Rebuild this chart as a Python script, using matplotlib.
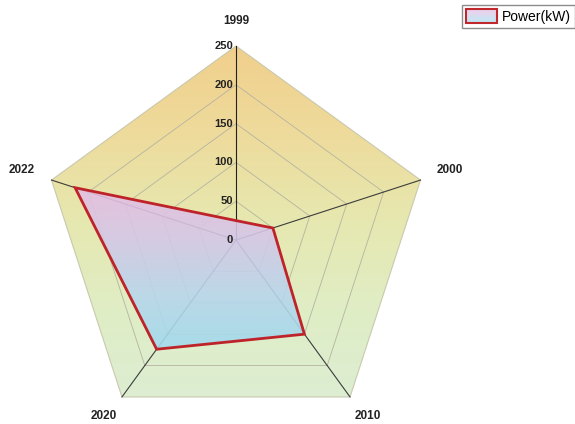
import numpy as np
import matplotlib
matplotlib.use("Agg")
import matplotlib.pyplot as plt
from matplotlib.colors import LinearSegmentedColormap
from matplotlib.patches import Polygon, Rectangle
from matplotlib.legend_handler import HandlerBase

# data
years = ["1999", "2000", "2010", "2020", "2022"]
power_kw = [25, 50, 150, 174, 218]
ticks = [0, 50, 100, 150, 200, 250]
r_max = 250
series_name = "Power(kW)"

plt.rcParams['font.family'] = ['Liberation Sans', 'DejaVu Sans']

W, H = 575, 424
px = r_max / 194      # data units per pixel
cx, cy = 236, 184     # centre of the radar in pixels (from bottom-left)

fig = plt.figure(figsize=(W / 100, H / 100), dpi=100)
ax = fig.add_axes([0, 0, 1, 1])
ax.axis('off')

n = len(years)
angles = np.pi / 2 - 2 * np.pi * np.arange(n) / n


def ring(r):
    r = np.broadcast_to(np.asarray(r, dtype=float), angles.shape)
    return np.column_stack([r * np.cos(angles), r * np.sin(angles)])


bg_cmap = LinearSegmentedColormap.from_list(
    "bg", ["#DCEED2", "#E0EDC5", "#E6E8B0", "#EEDB9C", "#F1CF8C"])
poly_cmap = LinearSegmentedColormap.from_list(
    "poly", ["#A2DAEC", "#B8D6EC", "#D3C8E8", "#E6BEE2"])
grad = np.linspace(0, 1, 256).reshape(-1, 1)

# background pentagon with vertical gradient
outer = ring(r_max)
frame = Polygon(outer, closed=True, facecolor='none', edgecolor='#C9C9AE',
                lw=0.8, zorder=2)
ax.add_patch(frame)
bg = ax.imshow(grad, extent=[outer[:, 0].min(), outer[:, 0].max(),
                             outer[:, 1].min(), outer[:, 1].max()],
               origin='lower', cmap=bg_cmap, aspect='auto', zorder=1)
bg.set_clip_path(frame)

# grid pentagons
for t in ticks[1:-1]:
    g = ring(t)
    ax.add_patch(Polygon(g, closed=True, facecolor='none', edgecolor='#B4B4A0',
                         lw=0.6, zorder=2))

# spokes
for i, a in enumerate(angles):
    ax.plot([0, r_max * np.cos(a)], [0, r_max * np.sin(a)],
            color='#222222' if i == 0 else '#3C3C3C', lw=0.8, zorder=2)

# data polygon with gradient fill
pts = ring(power_kw)
shape = Polygon(pts, closed=True, facecolor='none', edgecolor='none', zorder=3)
ax.add_patch(shape)
fill = ax.imshow(grad, extent=[pts[:, 0].min(), pts[:, 0].max(),
                               pts[:, 1].min(), pts[:, 1].max()],
                 origin='lower', cmap=poly_cmap, aspect='auto', alpha=0.9,
                 zorder=3)
fill.set_clip_path(shape)
ax.add_patch(Polygon(pts, closed=True, facecolor='none', edgecolor='#BE2329',
                     lw=2, joinstyle='miter', zorder=4))

# radial tick labels on the first axis
for t in ticks:
    ax.text(-3 * px, t, str(t), ha='right', va='center', fontsize=8,
            fontweight='bold', color='#222222', zorder=5)

# category labels
for lab, a in zip(years, angles):
    s = np.sin(a)
    va = 'top' if s > 0.9 else ('bottom' if s < -0.5 else 'center')
    ax.text(290 * np.cos(a), 290 * s, lab, ha='center', va=va,
            fontsize=8.5, fontweight='bold', color='#222222')

ax.set_xlim(-cx * px, (W - cx) * px)
ax.set_ylim(-cy * px, (H - cy) * px)


class GradientHandler(HandlerBase):
    def create_artists(self, legend, orig_handle, xdescent, ydescent,
                       width, height, fontsize, trans):
        cols = poly_cmap(np.linspace(0, 1, 12))
        arts = []
        for i, c in enumerate(cols):
            arts.append(Rectangle((-xdescent, -ydescent + height * i / 12),
                                  width, height / 12, facecolor=c,
                                  edgecolor='none', alpha=0.7, transform=trans))
        arts.append(Rectangle((-xdescent, -ydescent), width, height,
                              facecolor='none', edgecolor='#C0282D', lw=1.5,
                              transform=trans))
        return arts


handle = Rectangle((0, 0), 1, 1)
fig.legend(handles=[handle], labels=[series_name],
           handler_map={handle: GradientHandler()},
           loc='upper right', bbox_to_anchor=(1.0, 1 - 5 / H),
           borderaxespad=0, fancybox=False, edgecolor='#8C8C8C',
           framealpha=1, fontsize=10, handlelength=2.2, handleheight=1.15,
           borderpad=0.3, handletextpad=0.35)

fig.savefig("out.png", dpi=100)
